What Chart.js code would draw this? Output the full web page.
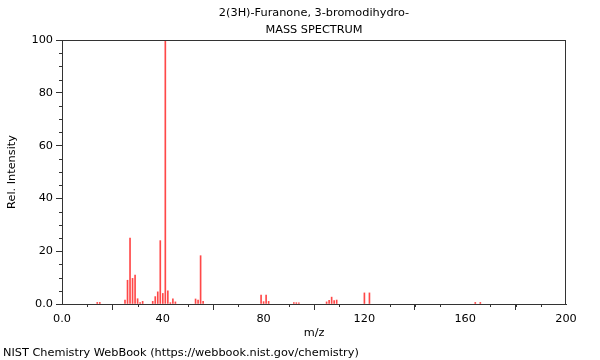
<!DOCTYPE html>
<html>
<head>
<meta charset="utf-8">
<script src="https://cdn.jsdelivr.net/npm/chart.js@4"></script>
<style>
  html, body { margin: 0; padding: 0; background: #fff; }
  #wrap { width: 600px; height: 360px; position: relative; }
</style>
</head>
<body>
<div id="wrap"><canvas id="ms"></canvas></div>
<script>
const titleLines = ["2(3H)-Furanone, 3-bromodihydro-", "MASS SPECTRUM"];
const footer = "NIST Chemistry WebBook (https://webbook.nist.gov/chemistry)";

// m/z and relative intensity
const mz = [14, 15, 25, 26, 27, 28, 29, 30, 31, 32, 36, 37, 38, 39, 40, 41, 42, 43, 44, 45,
  53, 54, 55, 56, 79, 80, 81, 82, 92, 93, 94, 105, 106, 107, 108, 109, 120, 122, 164, 166];
const intensity = [0.6, 0.6, 1.5, 9, 25, 9.7, 11, 2, 0.5, 1, 1, 2.8, 4.6, 24, 4, 100, 5, 0.5, 2, 0.8,
  1.9, 1.5, 18.3, 1, 3.4, 0.9, 3.4, 1, 0.5, 0.5, 0.4, 0.8, 1.4, 2.6, 1.3, 1.5, 4.2, 4.2, 0.6, 0.6];

const xMajor = 40, xMinor = 10, xMax = 200;
const yMajor = 20, yMinor = 5, yMax = 100;

const FONT = "DejaVu Sans";
const FSIZE = 11.3;
const frameColor = "#333";

const extras = {
  id: 'extras',
  afterDraw(chart) {
    const { ctx, chartArea: a, scales } = chart;
    ctx.save();
    ctx.strokeStyle = frameColor;
    ctx.lineWidth = 1;
    ctx.strokeRect(a.left + 0.5, a.top + 0.5, a.right - a.left - 1, a.bottom - a.top);
    // minor ticks
    ctx.beginPath();
    for (let v = 0; v <= xMax; v += xMinor) {
      if (v % xMajor === 0) continue;
      const px = Math.round(scales.x.getPixelForValue(v)) + 0.5;
      ctx.moveTo(px, a.bottom);
      ctx.lineTo(px, a.bottom + 3);
    }
    for (let v = 0; v <= yMax; v += yMinor) {
      if (v % yMajor === 0) continue;
      const py = Math.round(scales.y.getPixelForValue(v)) + 0.5;
      ctx.moveTo(a.left, py);
      ctx.lineTo(a.left - 3, py);
    }
    ctx.stroke();

    ctx.fillStyle = "#000";
    ctx.font = FSIZE + "px '" + FONT + "'";
    ctx.textAlign = "center";
    ctx.textBaseline = "middle";
    const cx = (a.left + a.right) / 2;
    ctx.fillText(titleLines[0], cx, 13);
    ctx.fillText(titleLines[1], cx, 30);
    ctx.textAlign = "left";
    ctx.fillText(footer, 3, 353);
    ctx.restore();
  }
};

new Chart(document.getElementById('ms'), {
  type: 'bar',
  data: {
    datasets: [{
      data: mz.map((m, i) => ({ x: m, y: intensity[i] })),
      backgroundColor: 'rgba(255,40,40,0.85)',
      barThickness: 1,
      grouped: false
    }]
  },
  options: {
    responsive: true,
    maintainAspectRatio: false,
    animation: false,
    layout: { padding: { top: 40, right: 34, left: 0, bottom: 20 } },
    plugins: { legend: { display: false }, tooltip: { enabled: false }, title: { display: false } },
    scales: {
      x: {
        type: 'linear', min: 0, max: xMax, offset: false,
        afterFit: s => { s.height = 36; },
        ticks: { stepSize: xMajor, color: '#000', padding: 2, maxRotation: 0,
          font: { family: FONT, size: FSIZE },
          callback: v => v === 0 ? '0.0' : String(v) },
        grid: { drawOnChartArea: false, drawTicks: true, tickLength: 6, color: frameColor },
        border: { color: frameColor },
        title: { display: true, text: 'm/z', color: '#000', font: { family: FONT, size: FSIZE }, padding: 0 }
      },
      y: {
        min: 0, max: yMax,
        afterFit: s => { s.width = 62; },
        ticks: { stepSize: yMajor, color: '#000', padding: 3,
          font: { family: FONT, size: FSIZE },
          callback: v => v === 0 ? '0.0' : String(v) },
        grid: { drawOnChartArea: false, drawTicks: true, tickLength: 6, color: frameColor },
        border: { color: frameColor },
        title: { display: true, text: 'Rel. Intensity', color: '#000', font: { family: FONT, size: FSIZE }, padding: { top: 5, bottom: 0 } }
      }
    }
  },
  plugins: [extras]
});
</script>
</body>
</html>
